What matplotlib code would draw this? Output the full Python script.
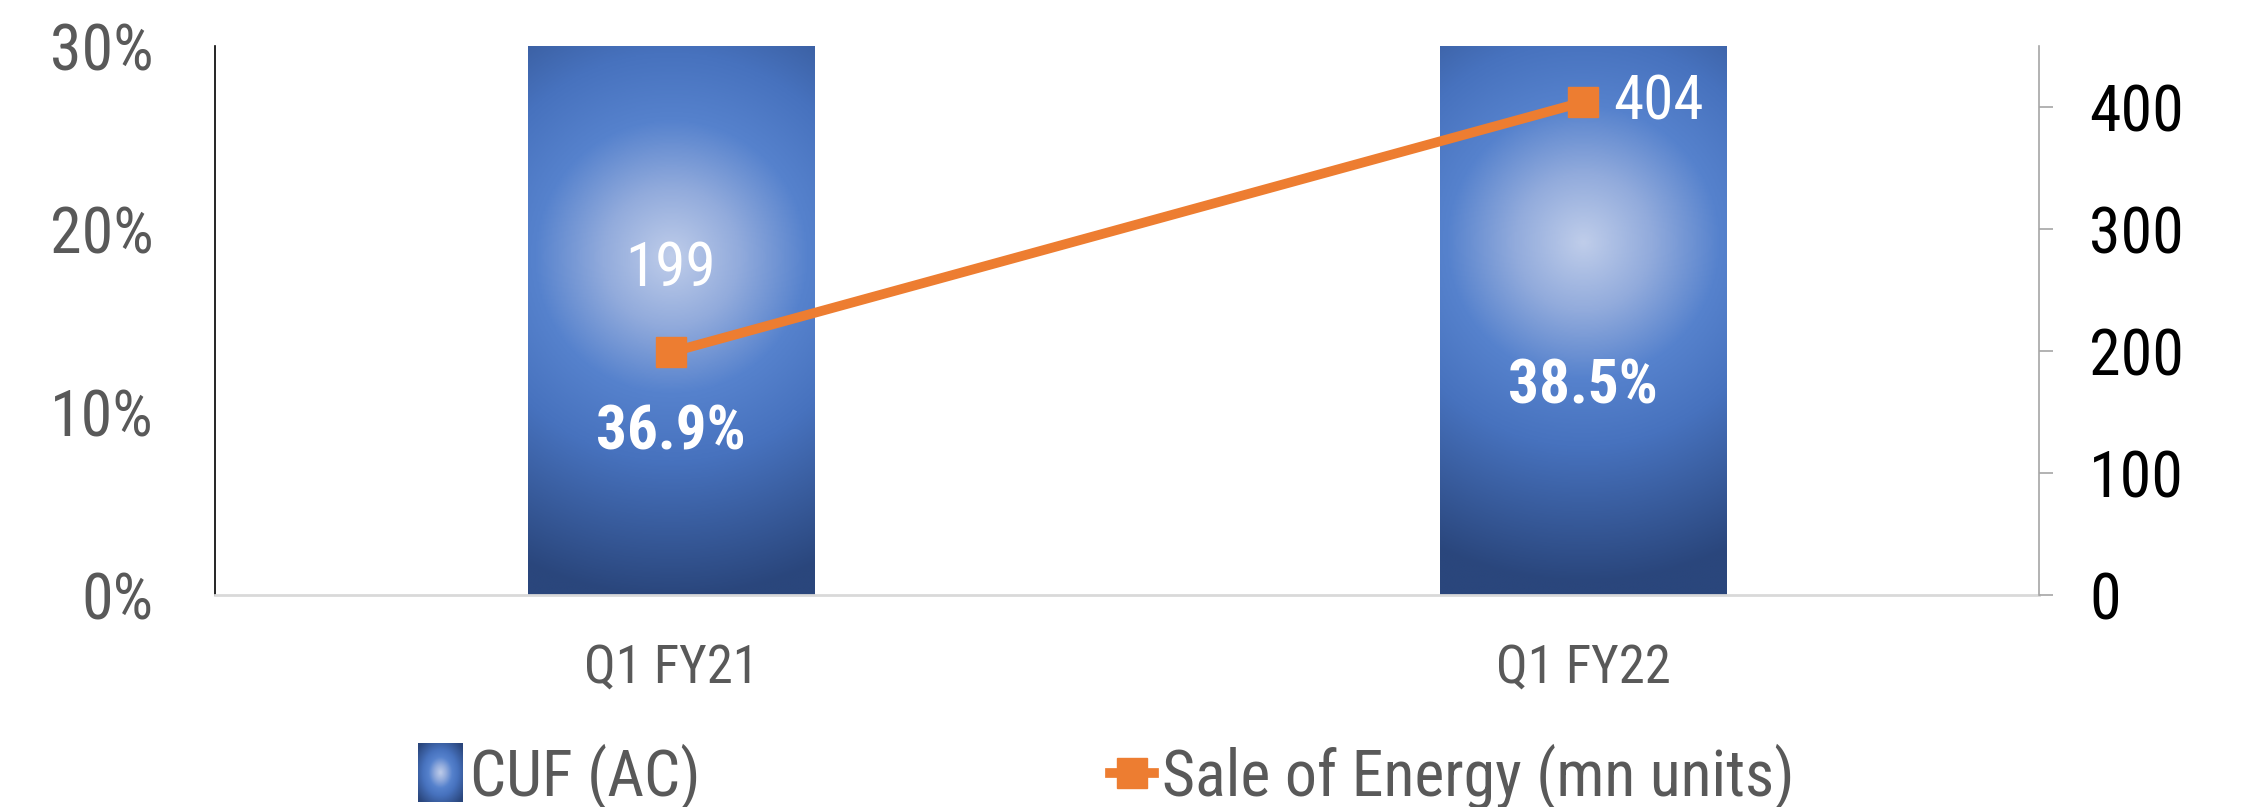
import numpy as np
import matplotlib
matplotlib.use('Agg')
import matplotlib.pyplot as plt
from matplotlib.colors import LinearSegmentedColormap
from matplotlib.image import BboxImage
from matplotlib.legend_handler import HandlerBase
from matplotlib.lines import Line2D
from matplotlib.patches import Rectangle
from matplotlib.transforms import Bbox, TransformedBbox

plt.rcParams['font.family'] = ['Roboto Condensed', 'DejaVu Sans']

# data
categories = ['Q1 FY21', 'Q1 FY22']
cuf = [0.369, 0.385]
cuf_labels = ['36.9%', '38.5%']
cuf_label_y = [0.089, 0.114]
energy = [199, 404]
left_ticks = [0, 0.1, 0.2, 0.3]
right_ticks = [0, 100, 200, 300, 400]

BLUE_CMAP = LinearSegmentedColormap.from_list(
    'bar', [(0.0, '#bfcdea'), (0.2, '#92abdc'), (0.4, '#5682cd'),
            (0.6, '#4772be'), (1.0, '#2a467c')])

W, H = 2244, 807
fig = plt.figure(figsize=(W / 100, H / 100), dpi=100)
ax = fig.add_axes([0.0958, 0.2627, 0.8129, 0.6803])
ax2 = ax.twinx()

x = np.arange(len(categories))
bw = 0.314
YMAX = 0.3
bars = ax.bar(x, cuf, width=bw, color='none', zorder=2)

# radial gradient fill for bars (gradient spans the full bar, shown up to axis top)
ax_w = 0.8129 * W
ax_h = 0.6803 * H
px_x = ax_w / 2.0
px_y = ax_h / YMAX
for b, v in zip(bars, cuf):
    x0 = b.get_x()
    top = min(v, YMAX)
    gx = np.linspace(x0, x0 + bw, 200)
    gy = np.linspace(0, top, 500)
    X, Y = np.meshgrid(gx, gy)
    r = np.hypot((X - (x0 + bw / 2)) * px_x, (Y - v / 2) * px_y) / 340.0
    ax.imshow(np.clip(r, 0, 1), cmap=BLUE_CMAP, vmin=0, vmax=1,
              extent=(x0, x0 + bw, 0, top), origin='lower',
              aspect='auto', zorder=1, interpolation='bilinear')
ax.set_xlim(-0.5, 1.5)
ax.set_ylim(0, YMAX)

for xi, lab, ly in zip(x, cuf_labels, cuf_label_y):
    ax.text(xi, ly, lab, color='white', fontsize=44, fontweight='bold',
            ha='center', va='center', zorder=5)

ax2.plot(x, energy, color='#ed7d31', lw=7, marker='s', markersize=22,
         zorder=4)
ax2.set_ylim(0, 450)
ax2.text(x[0], energy[0] + 68, str(energy[0]), color='white', fontsize=44,
         ha='center', va='center')
ax2.text(x[1] + 0.033, energy[1], str(energy[1]), color='white', fontsize=44,
         ha='left', va='center')

# axes styling
ax.set_yticks(left_ticks)
ax.set_yticklabels(['%d%%' % round(t * 100) for t in left_ticks])
ax.tick_params(axis='y', length=0, pad=44, labelsize=46, labelcolor='#595959')
ax.set_xticks(x)
ax.set_xticklabels(categories)
ax.tick_params(axis='x', length=0, pad=34, labelsize=38, labelcolor='#595959')
for s in ['top', 'right']:
    ax.spines[s].set_visible(False)
ax.spines['left'].set_color('black')
ax.spines['left'].set_linewidth(1.2)
ax.spines['bottom'].set_color('#d9d9d9')
ax.spines['bottom'].set_linewidth(2)

ax2.set_yticks(right_ticks)
ax2.tick_params(axis='y', length=10, width=1.2, color='#a6a6a6', pad=26,
                labelsize=46, labelcolor='black')
for s in ['top', 'left', 'bottom']:
    ax2.spines[s].set_visible(False)
ax2.spines['right'].set_color('#a6a6a6')
ax2.spines['right'].set_linewidth(1.2)


class GradientHandler(HandlerBase):
    def create_artists(self, legend, orig_handle, xdescent, ydescent,
                       width, height, fontsize, trans):
        gx, gy = np.meshgrid(np.linspace(-1, 1, 40), np.linspace(-1, 1, 40))
        r = np.clip(np.hypot(gx, gy) * 0.75, 0, 1)
        bb = TransformedBbox(Bbox.from_bounds(-xdescent, -ydescent - height * 0.15,
                                              width, height * 1.3), trans)
        img = BboxImage(bb, cmap=BLUE_CMAP, norm=plt.Normalize(0, 1),
                        interpolation='bilinear')
        img.set_data(r)
        return [img]


h_bar = Rectangle((0, 0), 1, 1)
h_line = Line2D([], [], color='#ed7d31', lw=7, marker='s', markersize=22)
leg = fig.legend([h_bar, h_line], ['CUF (AC)', 'Sale of Energy (mn units)'],
                 handler_map={Rectangle: GradientHandler()},
                 loc='center', bbox_to_anchor=(0.493, 0.037), ncol=2,
                 frameon=False, fontsize=46, handlelength=0.7,
                 handletextpad=0.12, columnspacing=6.4, labelcolor='#595959')

fig.savefig('out.png', dpi=100)
